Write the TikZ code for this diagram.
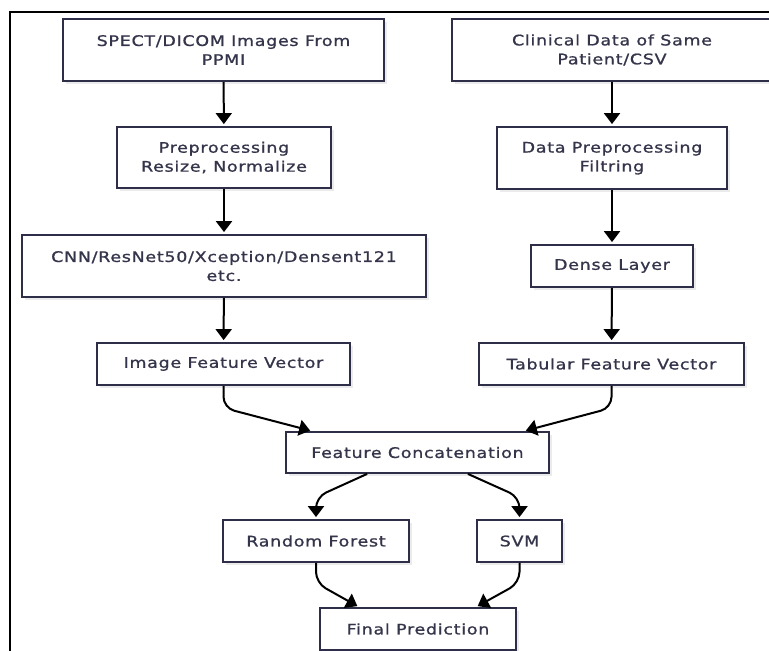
\documentclass[tikz,border=0pt]{standalone}
\usepackage{fontspec}
\setmainfont[FakeStretch=1.2,LetterSpace=5,FakeBold=1]{DejaVu Sans}
\usetikzlibrary{arrows.meta,calc,shadows}
\definecolor{boxline}{HTML}{2E2E48}
\definecolor{txt}{HTML}{34344A}
\tikzset{
  box/.style={draw=boxline, line width=1.8bp, fill=white, align=center, text=txt,
    inner sep=0pt, font=\fontsize{14.6}{19}\selectfont,
    drop shadow={shadow xshift=3bp, shadow yshift=-3bp, fill=black, opacity=0.08}},
  arr/.style={draw=black, line width=2bp, -{Triangle[width=16bp,length=11bp]}, shorten >=2bp},
  curvy/.style={arr, rounded corners=11bp}
}
\begin{document}
\begin{tikzpicture}[x=1bp,y=-1bp]
\useasboundingbox (0,0) rectangle (769,651);
\draw[line width=1.7bp, black] (10,651) -- (10,12) -- (775,12);
% left column
\node[box, minimum width=321bp, minimum height=62bp] (spect) at (223.5,50) {SPECT/DICOM Images From\\PPMI};
\node[box, minimum width=214bp, minimum height=61bp] (prep) at (224,157.5) {Preprocessing\\Resize, Normalize};
\node[box, minimum width=404bp, minimum height=62bp] (cnn) at (224,266) {CNN/ResNet50/Xception/Densent121\\etc.};
\node[box, minimum width=253bp, minimum height=42bp] (ifv) at (223.5,364) {Image Feature Vector};
% right column
\node[box, minimum width=320bp, minimum height=62bp] (clin) at (612,50) {Clinical Data of Same\\Patient/CSV};
\node[box, minimum width=230bp, minimum height=62bp] (dprep) at (612,158) {Data Preprocessing\\Filtring};
\node[box, minimum width=162bp, minimum height=42bp] (dense) at (612,266) {Dense Layer};
\node[box, minimum width=265bp, minimum height=42bp] (tfv) at (611.5,364) {Tabular Feature Vector};
% bottom
\node[box, minimum width=263bp, minimum height=41bp] (fc) at (417.5,452.5) {Feature Concatenation};
\node[box, minimum width=186bp, minimum height=42bp] (rf) at (316,541) {Random Forest};
\node[box, minimum width=85bp, minimum height=42bp] (svm) at (519.5,541) {SVM};
\node[box, minimum width=196bp, minimum height=42bp] (fp) at (418,629) {Final Prediction};
% arrows
\draw[arr] (spect) -- (prep);
\draw[arr] (prep) -- (cnn);
\draw[arr] (cnn) -- (ifv);
\draw[arr] (clin.south -| dprep) -- (dprep);
\draw[arr] (dprep) -- (dense);
\draw[arr] (dense) -- (tfv);
\draw[curvy] (ifv.south) -- ++(0,22) -- ($(fc.north west)+(27,0)$);
\draw[curvy] (tfv.south) -- ++(0,22) -- ($(fc.north east)+(-26,0)$);
\draw[curvy] ($(fc.south west)+(82,0)$) -- ($(rf.north)+(0,-22)$) -- (rf.north);
\draw[curvy] ($(fc.south east)+(-82,0)$) -- ($(svm.north)+(0,-22)$) -- (svm.north);
\draw[curvy] (rf.south) -- ++(0,20) -- ($(fp.north west)+(40,0)$);
\draw[curvy] (svm.south) -- ++(0,20) -- ($(fp.north east)+(-41,0)$);
\end{tikzpicture}
\end{document}
